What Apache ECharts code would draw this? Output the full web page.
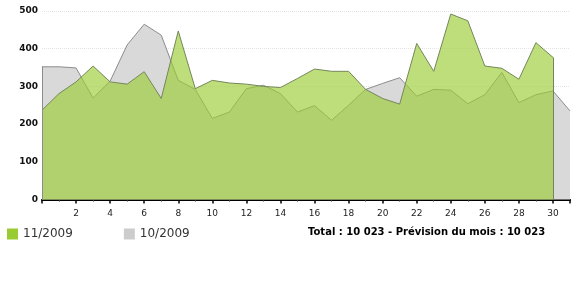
<!DOCTYPE html>
<html><head><meta charset="utf-8">
<script src="https://cdn.jsdelivr.net/npm/echarts/dist/echarts.min.js"></script>
<style>html,body{margin:0;padding:0;background:#fff}#c{width:583px;height:300px}</style>
</head><body><div id="c"></div>
<script>
// Series names (legend)
const seriesNames = ['11/2009', '10/2009'];
// Day positions on the x axis
const novDays = [0,1,2,3,4,5,6,7,8,9,10,11,12,13,14,15,16,17,18,19,20,21,22,23,24,25,26,27,28,29,30];
const octDays = [0,1,2,3,4,5,6,7,8,9,10,11,12,13,14,15,16,17,18,19,20,21,22,23,24,25,26,27,28,29,30,31];
// Values
const nov2009 = [237,281,312,354,312,306,339,268,447,294,316,309,306,300,297,321,346,340,340,292,268,253,414,340,492,474,354,348,319,416,377];
const oct2009 = [352,352,349,269,314,410,465,436,316,292,215,232,294,303,281,232,249,210,250,292,308,323,274,292,290,254,278,337,257,278,288,235];
// Axis ticks
const yTicks = [0,100,200,300,400,500];
const xLabelDays = [2,4,6,8,10,12,14,16,18,20,22,24,26,28,30];
const totalText = 'Total : 10 023 - Prévision du mois : 10 023';

const novData = novDays.map((d, i) => [d, nov2009[i]]);
const octData = octDays.map((d, i) => [d, oct2009[i]]);
const lastNov = novDays.length - 1;

const chart = echarts.init(document.getElementById('c'), null, {renderer: 'canvas'});
chart.setOption({
  animation: false,
  backgroundColor: '#ffffff',
  grid: {left: 42, right: 13, top: 11, bottom: 100.5},
  xAxis: {
    type: 'value', min: 0, max: 31, interval: 2,
    axisLine: {show: true, onZero: false, lineStyle: {color: '#000', width: 2}},
    axisTick: {show: true, length: 4, lineStyle: {color: '#000', width: 1.5}},
    minorTick: {show: true, splitNumber: 2, length: 2, lineStyle: {color: '#333', width: 1}},
    splitLine: {show: false},
    axisLabel: {
      margin: 10, fontSize: 9, fontFamily: 'DejaVu Sans', color: '#222',
      formatter: v => xLabelDays.indexOf(v) >= 0 ? String(v) : ''
    }
  },
  yAxis: {
    type: 'value', min: yTicks[0], max: yTicks[yTicks.length - 1], interval: 100,
    axisLine: {show: false}, axisTick: {show: false},
    splitLine: {show: true, lineStyle: {color: '#e4e4e4', type: 'dotted', width: 1}},
    axisLabel: {margin: 4, fontSize: 9, fontWeight: 'bold', fontFamily: 'DejaVu Sans', color: '#111'}
  },
  legend: {
    left: 2, top: 223, icon: 'rect', itemWidth: 11, itemHeight: 11, itemGap: 51,
    textStyle: {fontSize: 12, fontFamily: 'DejaVu Sans', color: '#333'},
    data: [
      {name: seriesNames[0], itemStyle: {color: '#99cc33'}},
      {name: seriesNames[1], itemStyle: {color: '#cccccc'}}
    ]
  },
  graphic: [{
    type: 'text', left: 308, top: 227,
    style: {text: totalText, font: 'bold 10px "DejaVu Sans"', fill: '#000'}
  }],
  series: [
    {
      name: seriesNames[1], type: 'line', data: octData, symbol: 'none', z: 2,
      itemStyle: {color: '#cccccc'},
      lineStyle: {color: '#8c8c8c', width: 1},
      areaStyle: {color: '#d9d9d9', opacity: 1},
      markLine: {
        silent: true, symbol: 'none', label: {show: false},
        lineStyle: {color: '#8c8c8c', width: 1, type: 'solid'},
        data: [[{coord: [octDays[0], 0]}, {coord: [octDays[0], oct2009[0]]}]]
      }
    },
    {
      name: seriesNames[0], type: 'line', data: novData, symbol: 'none', z: 3,
      itemStyle: {color: '#99cc33'},
      lineStyle: {color: '#75875a', width: 1},
      areaStyle: {color: '#99cc33', opacity: 0.65},
      markLine: {
        silent: true, symbol: 'none', label: {show: false},
        lineStyle: {color: '#75875a', width: 1, type: 'solid'},
        data: [[{coord: [novDays[lastNov], 0]}, {coord: [novDays[lastNov], nov2009[lastNov]]}]]
      }
    }
  ]
});
</script>
</body></html>
